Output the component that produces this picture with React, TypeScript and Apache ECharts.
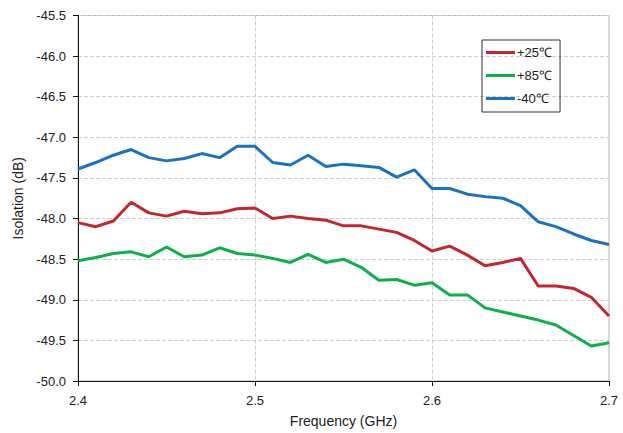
import React, { useEffect, useRef } from "react";
import * as echarts from "echarts";

const freqs = [
  2.4, 2.41, 2.42, 2.43, 2.44, 2.45, 2.46, 2.47, 2.48, 2.49, 2.5,
  2.51, 2.52, 2.53, 2.54, 2.55, 2.56, 2.57, 2.58, 2.59, 2.6,
  2.61, 2.62, 2.63, 2.64, 2.65, 2.66, 2.67, 2.68, 2.69, 2.7,
];

const seriesNames = ["+25\u2103", "+85\u2103", "-40\u2103"];
const seriesColors = ["#C1272D", "#0DB04B", "#1B72BE"];

const plus25 = [
  -48.05, -48.1, -48.03, -47.8, -47.93, -47.97, -47.91, -47.94, -47.93, -47.88, -47.87,
  -48.0, -47.97, -48.0, -48.02, -48.09, -48.09, -48.13, -48.17, -48.27, -48.4,
  -48.34, -48.45, -48.58, -48.54, -48.49, -48.83, -48.83, -48.86, -48.97, -49.2,
];

const plus85 = [
  -48.52, -48.48, -48.43, -48.41, -48.47, -48.35, -48.47, -48.45, -48.36, -48.43, -48.45,
  -48.49, -48.54, -48.44, -48.54, -48.5, -48.6, -48.76, -48.75, -48.82, -48.79,
  -48.94, -48.94, -49.1, -49.15, -49.2, -49.25, -49.31, -49.44, -49.57, -49.53,
];

const minus40 = [
  -47.39, -47.31, -47.22, -47.15, -47.25, -47.29, -47.26, -47.2, -47.25, -47.11, -47.11,
  -47.31, -47.34, -47.22, -47.36, -47.33, -47.35, -47.37, -47.49, -47.4, -47.63,
  -47.63, -47.7, -47.73, -47.75, -47.84, -48.04, -48.1, -48.19, -48.27, -48.32,
];

const xTicks = { min: 2.4, max: 2.7, interval: 0.1 };
const yTicks = { min: -50, max: -45.5, interval: 0.5 };

const FONT = "'Liberation Sans', Arial, sans-serif";

export default function App() {
  const ref = useRef<HTMLDivElement>(null);
  useEffect(() => {
    if (!ref.current) return;
    const chart = echarts.init(ref.current, null, { renderer: "svg" });
    const allData = [plus25, plus85, minus40];
    chart.setOption({
      animation: false,
      textStyle: { fontFamily: FONT },
      grid: {
        left: 78,
        right: 14,
        top: 15.5,
        bottom: 48,
        show: true,
        borderColor: "#b8b8b8",
        borderWidth: 1,
      },
      legend: {
        orient: "vertical",
        left: 482,
        top: 40,
        data: seriesNames,
        icon: "rect",
        itemWidth: 29,
        itemHeight: 3,
        itemGap: 10,
        borderColor: "#333",
        borderWidth: 1,
        padding: [6, 8, 7, 4],
        textStyle: { fontFamily: FONT, fontSize: 13, color: "#222", padding: [0, 0, 0, -3] },
      },
      xAxis: {
        type: "value",
        min: xTicks.min,
        max: xTicks.max,
        interval: xTicks.interval,
        name: "Frequency (GHz)",
        nameLocation: "middle",
        nameGap: 33,
        nameTextStyle: { fontFamily: FONT, fontSize: 14, color: "#222" },
        axisLine: { lineStyle: { color: "#111", width: 1 } },
        axisTick: { show: true, length: 5, lineStyle: { color: "#111" } },
        axisLabel: {
          fontFamily: FONT,
          fontSize: 13,
          color: "#222",
          margin: 13,
          formatter: (v: number) => v.toFixed(1),
        },
        splitLine: { show: true, lineStyle: { color: "#cfcfcf", type: "dashed", width: 1 } },
      },
      yAxis: {
        type: "value",
        min: yTicks.min,
        max: yTicks.max,
        interval: yTicks.interval,
        name: "Isolation (dB)",
        nameLocation: "middle",
        nameGap: 47,
        nameTextStyle: { fontFamily: FONT, fontSize: 14, color: "#222" },
        axisLine: { show: true, lineStyle: { color: "#111", width: 1 } },
        axisTick: { show: true, length: 5, lineStyle: { color: "#111" } },
        axisLabel: {
          fontFamily: FONT,
          fontSize: 13,
          color: "#222",
          margin: 12,
          formatter: (v: number) => v.toFixed(1),
        },
        splitLine: { show: true, lineStyle: { color: "#cfcfcf", type: "dashed", width: 1 } },
      },
      series: seriesNames.map((name, i) => ({
        name,
        type: "line",
        data: freqs.map((f, j) => [f, allData[i][j]]),
        showSymbol: false,
        symbol: "none",
        lineStyle: { color: seriesColors[i], width: 3 },
        itemStyle: { color: seriesColors[i] },
      })),
    });
    return () => chart.dispose();
  }, []);
  return (
    <div
      ref={ref}
      style={{ position: "absolute", left: 0, top: 0, width: 623, height: 433 }}
    />
  );
}
